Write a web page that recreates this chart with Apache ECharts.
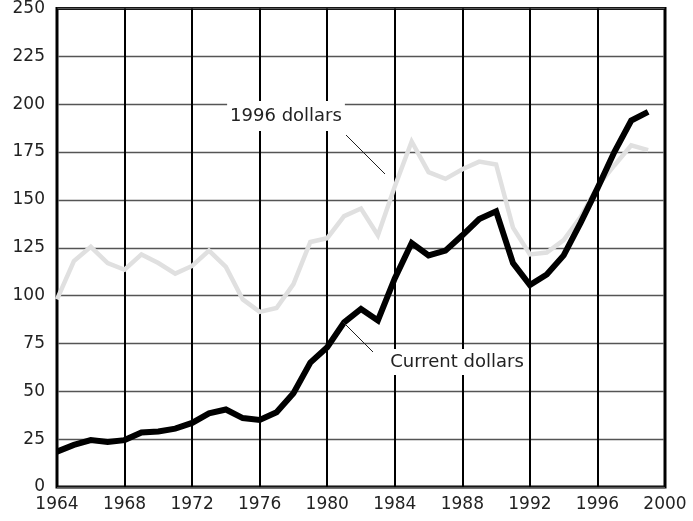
<!DOCTYPE html>
<html>
<head>
<meta charset="utf-8">
<script src="https://cdn.jsdelivr.net/npm/echarts@6/dist/echarts.min.js"></script>
<style>
  html, body { margin: 0; padding: 0; background: #fff; }
  #chart { width: 693px; height: 521px; }
</style>
</head>
<body>
<div id="chart"></div>
<script>
const years = [
  1964, 1965, 1966, 1967, 1968, 1969, 1970, 1971, 1972, 1973, 1974, 1975,
  1976, 1977, 1978, 1979, 1980, 1981, 1982, 1983, 1984, 1985, 1986, 1987,
  1988, 1989, 1990, 1991, 1992, 1993, 1994, 1995, 1996, 1997, 1998, 1999
]
const currentDollars = [
  18.5, 22, 24.5, 23.5, 24.5, 28.5, 29, 30.5, 33.5, 38.5, 40.5, 36,
  35, 39, 49, 65, 73, 86, 93, 87, 109, 127.5, 121, 123.5,
  131.5, 140, 144, 117, 105.5, 111, 121, 138, 156, 175, 191.5, 196
]
const constantDollars = [
  98, 118, 125.5, 117, 113.5, 121.5, 117, 111.5, 115.5, 123.5, 115, 98,
  91.5, 93.5, 106, 128, 130, 141.5, 145.5, 131.5, 157, 180.5, 164.5, 161,
  166, 170, 168.5, 135.5, 121.5, 122.5, 129, 141, 157, 168, 178.5, 176
]

const fontFamily = 'DejaVu Sans'
const textColor = '#222'

const chart = echarts.init(document.getElementById('chart'))

const option = {
  backgroundColor: '#fff',
  animation: false,
  grid: {
    left: 57,
    right: 28,
    top: 5,
    bottom: 34,
    show: true,
    borderColor: '#000',
    borderWidth: 3
  },
  xAxis: {
    type: 'value',
    min: 1964,
    max: 2000,
    interval: 4,
    axisLine: { show: false },
    axisTick: { show: false },
    axisLabel: {
      color: textColor,
      fontSize: 17,
      fontFamily,
      margin: 9,
      formatter: (v) => String(v)
    },
    splitLine: { show: true, lineStyle: { color: '#000', width: 2 } }
  },
  yAxis: {
    type: 'value',
    min: 0,
    max: 250,
    interval: 25,
    axisLine: { show: false },
    axisTick: { show: false },
    axisLabel: { color: textColor, fontSize: 17, fontFamily, margin: 12 },
    splitLine: { show: true, lineStyle: { color: '#555', width: 1.3 } }
  },
  series: [
    {
      name: '1996 dollars',
      type: 'line',
      data: years.map((y, i) => [y, constantDollars[i]]),
      showSymbol: false,
      lineStyle: { color: '#e0e0e0', width: 4.5, join: 'miter' },
      z: 3
    },
    {
      name: 'Current dollars',
      type: 'line',
      data: years.map((y, i) => [y, currentDollars[i]]),
      showSymbol: false,
      lineStyle: { color: '#000', width: 6, join: 'miter' },
      z: 4
    }
  ],
  graphic: [
    {
      type: 'line',
      shape: { x1: 346, y1: 135, x2: 385, y2: 174 },
      style: { stroke: textColor, lineWidth: 1 },
      z: 10
    },
    {
      type: 'line',
      shape: { x1: 343, y1: 322, x2: 373, y2: 352 },
      style: { stroke: textColor, lineWidth: 1 },
      z: 10
    },
    {
      type: 'text',
      x: 286,
      y: 116,
      style: {
        text: '1996 dollars',
        fill: textColor,
        font: '18px "DejaVu Sans"',
        align: 'center',
        verticalAlign: 'middle',
        backgroundColor: '#fff',
        padding: [6, 3, 6, 3]
      },
      z: 10
    },
    {
      type: 'text',
      x: 457,
      y: 362,
      style: {
        text: 'Current dollars',
        fill: textColor,
        font: '18px "DejaVu Sans"',
        align: 'center',
        verticalAlign: 'middle',
        backgroundColor: '#fff',
        padding: [4, 3, 4, 3]
      },
      z: 10
    }
  ]
}

chart.setOption(option)
</script>
</body>
</html>
